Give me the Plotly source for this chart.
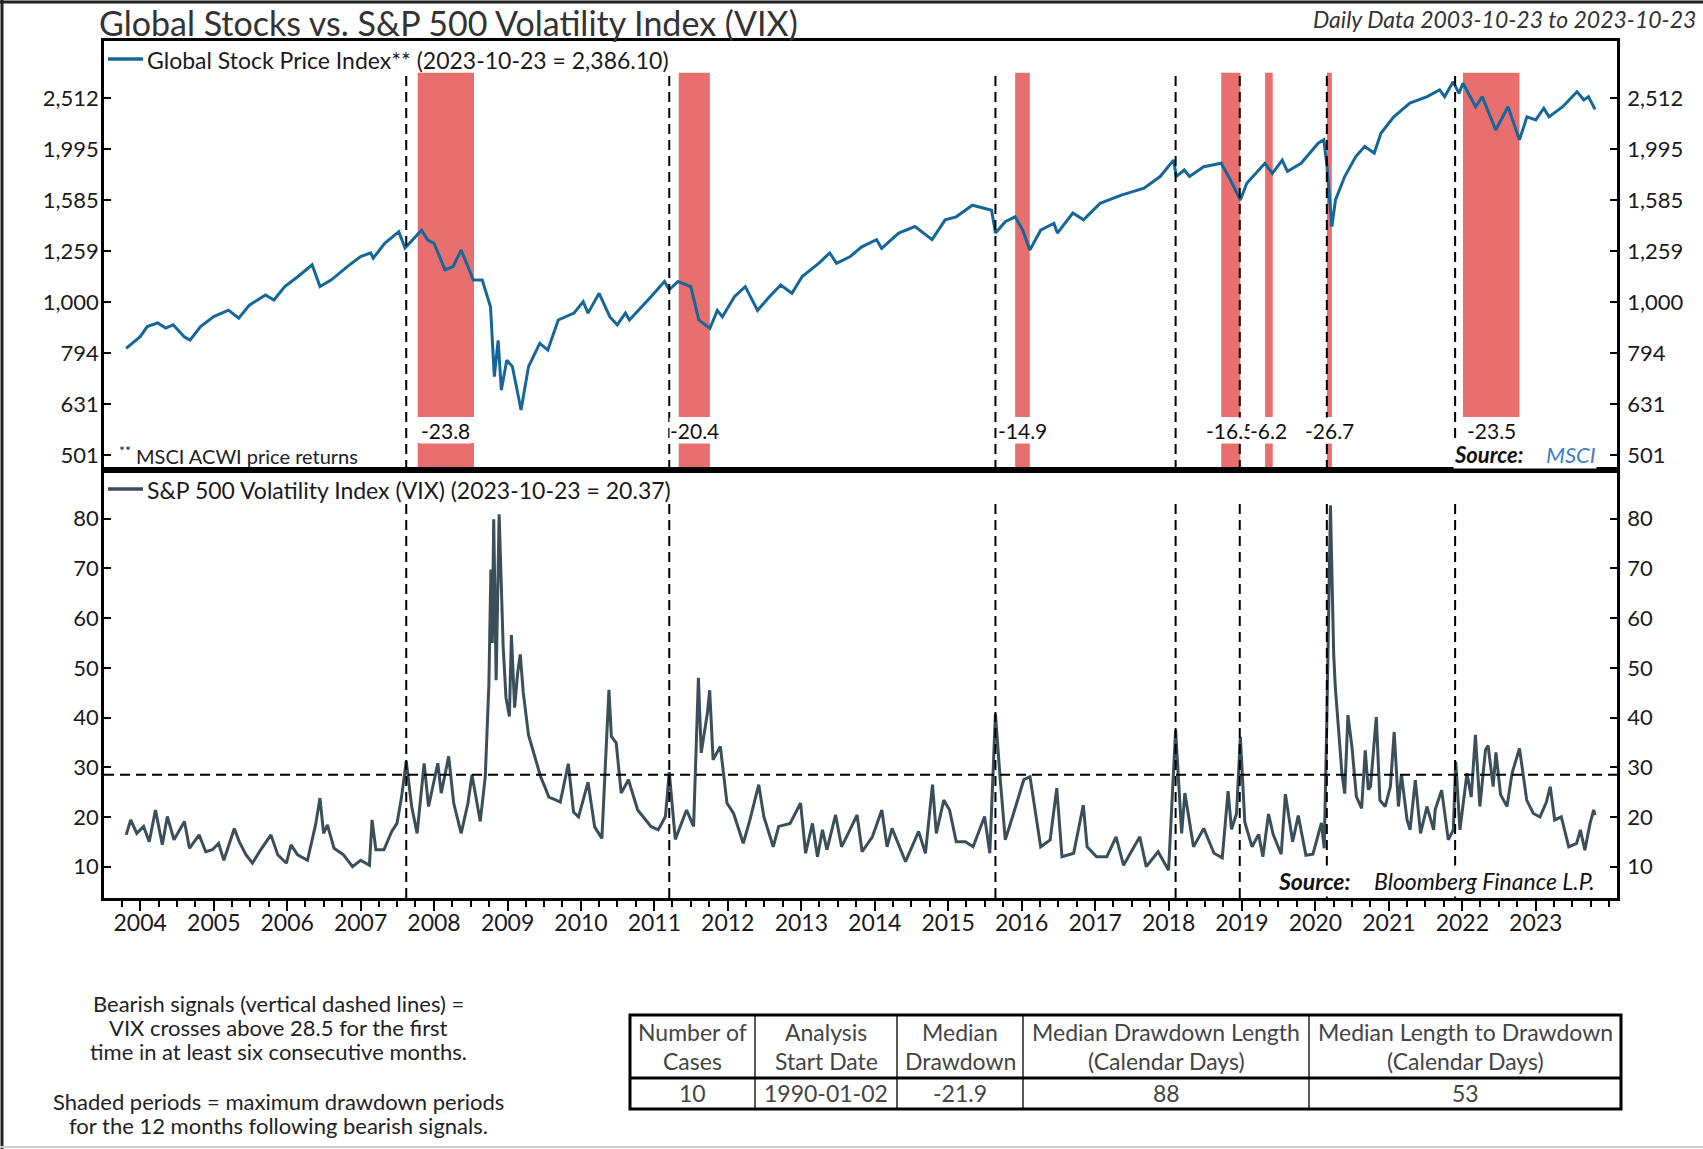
import pandas as pd
import plotly.graph_objects as go

# ---- data ----
stock_dates = [
    "2003-10-23", "2004-01-01", "2004-02-05", "2004-03-28", "2004-05-07", "2004-06-13", "2004-08-07",
    "2004-09-05", "2004-10-27", "2005-01-01", "2005-03-15", "2005-05-05", "2005-06-27", "2005-09-15",
    "2005-10-27", "2005-12-20", "2006-02-24", "2006-05-05", "2006-06-13", "2006-08-07", "2006-10-27",
    "2007-01-01", "2007-02-20", "2007-03-05", "2007-05-01", "2007-07-10", "2007-08-10", "2007-10-31",
    "2007-12-01", "2008-01-01", "2008-02-25", "2008-04-05", "2008-05-15", "2008-07-15", "2008-08-28",
    "2008-10-08", "2008-10-27", "2008-11-15", "2008-12-01", "2008-12-28", "2009-01-25", "2009-03-09",
    "2009-04-15", "2009-06-10", "2009-07-20", "2009-09-10", "2009-11-27", "2010-01-12", "2010-02-05",
    "2010-04-01", "2010-05-25", "2010-06-30", "2010-08-10", "2010-08-30", "2010-12-15", "2011-02-20",
    "2011-03-16", "2011-04-28", "2011-07-01", "2011-08-10", "2011-10-04", "2011-11-10", "2011-12-05",
    "2012-02-03", "2012-03-28", "2012-05-28", "2012-07-26", "2012-09-20", "2012-11-15", "2013-01-05",
    "2013-03-28", "2013-05-22", "2013-06-25", "2013-09-01", "2013-10-28", "2014-01-10", "2014-02-04",
    "2014-04-30", "2014-07-20", "2014-10-13", "2014-12-17", "2015-02-10", "2015-05-01", "2015-08-05",
    "2015-08-24", "2015-10-12", "2015-11-30", "2016-01-07", "2016-02-11", "2016-04-05", "2016-06-10",
    "2016-06-27", "2016-09-12", "2016-11-04", "2017-01-25", "2017-05-15", "2017-09-01", "2017-11-20",
    "2018-01-26", "2018-02-08", "2018-03-20", "2018-04-15", "2018-06-25", "2018-09-20", "2018-11-05",
    "2018-12-24", "2019-01-25", "2019-04-25", "2019-06-01", "2019-07-20", "2019-08-15", "2019-10-22",
    "2020-01-15", "2020-02-12", "2020-02-28", "2020-03-23", "2020-04-10", "2020-05-26", "2020-07-20",
    "2020-09-02", "2020-10-20", "2020-11-22", "2021-01-25", "2021-04-15", "2021-07-10", "2021-09-10",
    "2021-10-05", "2021-11-16", "2021-12-15", "2022-01-04", "2022-03-08", "2022-04-10", "2022-06-16",
    "2022-08-16", "2022-10-12", "2022-11-18", "2023-01-01", "2023-02-10", "2023-03-08", "2023-05-15",
    "2023-07-25", "2023-08-28", "2023-09-20", "2023-10-23",
]
stock_values = [
    811, 855, 895, 910, 889, 902, 855,
    842, 895, 936, 964, 930, 986, 1032,
    1009, 1072, 1122, 1183, 1072, 1104, 1173,
    1228, 1248, 1219, 1304, 1374, 1276, 1383,
    1323, 1304, 1157, 1173, 1265, 1104, 1104,
    979, 714, 841, 672, 769, 747, 614,
    747, 830, 805, 922, 951, 1002, 951,
    1040, 935, 902, 951, 922, 1024, 1097,
    1057, 1097, 1072, 922, 888, 963, 935,
    1024, 1072, 963, 1024, 1080, 1040, 1122,
    1191, 1248, 1191, 1228, 1283, 1325, 1274,
    1365, 1406, 1325, 1449, 1469, 1548, 1513,
    1365, 1437, 1469, 1383, 1265, 1383, 1427,
    1365, 1494, 1449, 1561, 1622, 1672, 1762,
    1898, 1762, 1815, 1762, 1842, 1871, 1734,
    1585, 1710, 1871, 1787, 1898, 1803, 1871,
    2048, 2080, 1842, 1406, 1585, 1762, 1928,
    2019, 1959, 2142, 2307, 2455, 2527, 2605,
    2527, 2704, 2565, 2685, 2415, 2527, 2174,
    2415, 2080, 2307, 2275, 2399, 2307, 2415,
    2585, 2489, 2527, 2386.10,
]

vix_dates = [
    "2003-10-23", "2003-11-15", "2003-12-15", "2004-01-18", "2004-02-15", "2004-03-17", "2004-04-20",
    "2004-05-15", "2004-06-17", "2004-08-08", "2004-09-02", "2004-10-20", "2004-11-22", "2004-12-25",
    "2005-01-25", "2005-02-20", "2005-04-13", "2005-05-08", "2005-06-10", "2005-07-12", "2005-08-22",
    "2005-10-12", "2005-11-15", "2005-12-28", "2006-01-20", "2006-02-22", "2006-04-12", "2006-05-22",
    "2006-06-13", "2006-07-01", "2006-07-20", "2006-08-22", "2006-10-08", "2006-11-22", "2007-01-01",
    "2007-02-14", "2007-02-27", "2007-03-18", "2007-04-27", "2007-06-05", "2007-07-01", "2007-07-24",
    "2007-08-16", "2007-08-28", "2007-09-12", "2007-10-09", "2007-11-13", "2007-12-05", "2008-01-20",
    "2008-02-06", "2008-03-14", "2008-04-08", "2008-05-15", "2008-06-18", "2008-07-08", "2008-08-18",
    "2008-09-12", "2008-09-30", "2008-10-10", "2008-10-17", "2008-10-24", "2008-11-05", "2008-11-20",
    "2008-12-10", "2008-12-24", "2009-01-10", "2009-01-20", "2009-02-05", "2009-02-20", "2009-03-05",
    "2009-03-20", "2009-04-15", "2009-05-15", "2009-06-15", "2009-07-05", "2009-07-25", "2009-08-25",
    "2009-09-20", "2009-10-30", "2009-11-25", "2009-12-20", "2010-02-05", "2010-03-10", "2010-04-15",
    "2010-05-20", "2010-06-01", "2010-06-25", "2010-07-20", "2010-08-25", "2010-10-10", "2010-12-15",
    "2011-01-20", "2011-02-25", "2011-03-16", "2011-04-15", "2011-06-10", "2011-07-15", "2011-08-08",
    "2011-08-22", "2011-09-10", "2011-09-22", "2011-10-03", "2011-10-20", "2011-11-25", "2011-12-28",
    "2012-01-30", "2012-03-18", "2012-04-20", "2012-06-03", "2012-06-28", "2012-08-14", "2012-09-10",
    "2012-11-06", "2012-12-28", "2013-01-22", "2013-02-25", "2013-03-22", "2013-04-16", "2013-05-08",
    "2013-06-20", "2013-07-20", "2013-08-22", "2013-10-05", "2013-10-30", "2013-12-20", "2014-02-05",
    "2014-03-03", "2014-03-28", "2014-06-03", "2014-08-07", "2014-09-10", "2014-10-15", "2014-11-03",
    "2014-12-10", "2015-01-08", "2015-02-10", "2015-03-28", "2015-05-05", "2015-07-01", "2015-07-27",
    "2015-08-24", "2015-09-17", "2015-10-12", "2015-11-22", "2016-01-12", "2016-02-12", "2016-04-05",
    "2016-05-22", "2016-06-24", "2016-07-20", "2016-09-16", "2016-11-03", "2016-11-22", "2017-01-08",
    "2017-02-28", "2017-04-15", "2017-05-22", "2017-08-11", "2017-09-12", "2017-11-10", "2018-01-01",
    "2018-02-05", "2018-03-07", "2018-03-23", "2018-05-05", "2018-06-25", "2018-08-15", "2018-09-25",
    "2018-10-24", "2018-11-10", "2018-12-05", "2018-12-24", "2019-01-15", "2019-02-20", "2019-03-25",
    "2019-04-15", "2019-05-13", "2019-06-05", "2019-07-15", "2019-08-05", "2019-09-10", "2019-10-08",
    "2019-11-15", "2019-12-20", "2020-01-31", "2020-02-14", "2020-02-27", "2020-03-16", "2020-03-25",
    "2020-04-01", "2020-04-09", "2020-04-23", "2020-05-12", "2020-05-26", "2020-06-11", "2020-07-01",
    "2020-07-23", "2020-08-18", "2020-09-05", "2020-09-20", "2020-10-01", "2020-10-30", "2020-11-17",
    "2020-12-13", "2021-01-08", "2021-01-27", "2021-02-17", "2021-03-04", "2021-04-01", "2021-04-16",
    "2021-05-12", "2021-06-07", "2021-07-09", "2021-08-11", "2021-08-19", "2021-09-20", "2021-10-23",
    "2021-11-17", "2021-11-29", "2021-12-20", "2022-01-24", "2022-02-14", "2022-03-07", "2022-03-29",
    "2022-04-26", "2022-05-09", "2022-06-03", "2022-06-17", "2022-07-10", "2022-08-11", "2022-09-05",
    "2022-10-12", "2022-11-17", "2022-12-20", "2023-01-22", "2023-02-22", "2023-03-14", "2023-04-05",
    "2023-05-08", "2023-06-14", "2023-07-23", "2023-08-11", "2023-09-02", "2023-09-28", "2023-10-16",
    "2023-10-23",
]
vix_values = [
    16.4, 19.4, 16.7, 18.1, 15.0, 21.4, 14.4,
    20.1, 15.4, 19.1, 13.7, 16.4, 13.0, 13.4,
    14.7, 11.3, 17.7, 15.0, 12.4, 10.7, 13.4,
    16.4, 12.4, 10.7, 14.4, 12.4, 11.3, 18.4,
    23.8, 16.7, 18.4, 13.7, 12.4, 10.0, 11.3,
    10.3, 19.4, 13.4, 13.4, 17.1, 18.7, 24.1,
    31.2, 26.8, 22.1, 16.7, 30.8, 22.1, 30.8,
    24.8, 32.2, 22.8, 16.7, 22.8, 28.5, 19.1,
    28.1, 46.7, 69.8, 55.0, 79.9, 47.5, 80.9,
    54.3, 44.0, 40.2, 56.6, 42.0, 49.0, 52.7,
    45.0, 36.5, 32.2, 28.0, 26.1, 24.0, 23.5,
    23.0, 30.7, 21.0, 20.0, 27.0, 18.0, 15.7,
    45.6, 36.2, 34.9, 24.8, 27.5, 21.4, 18.1,
    17.4, 20.1, 29.0, 15.5, 21.4, 18.1, 48.0,
    32.9, 38.0, 41.0, 45.5, 31.5, 34.2, 22.8,
    20.7, 14.7, 19.4, 26.5, 20.1, 14.0, 18.1,
    18.7, 22.8, 12.7, 18.7, 12.0, 17.4, 13.4,
    20.4, 14.0, 16.7, 20.4, 13.0, 16.0, 21.4,
    14.0, 17.7, 11.0, 17.1, 12.7, 26.5, 16.7,
    23.4, 21.4, 15.0, 15.0, 14.0, 20.1, 12.7,
    40.7, 27.5, 15.4, 20.7, 27.5, 28.1, 14.0,
    15.4, 25.8, 12.0, 12.7, 22.4, 14.0, 12.0,
    12.0, 16.0, 10.3, 16.0, 10.0, 13.0, 9.3,
    37.5, 16.7, 24.8, 14.0, 17.7, 12.7, 11.8,
    25.2, 17.5, 20.7, 36.1, 19.0, 14.0, 16.5,
    12.0, 20.6, 16.5, 12.5, 24.6, 15.0, 20.3,
    12.3, 12.5, 18.8, 13.7, 39.2, 82.7, 63.9,
    52.9, 46.2, 38.1, 28.8, 24.7, 40.5, 34.1,
    24.1, 21.7, 33.4, 25.5, 26.1, 40.1, 23.4,
    22.1, 26.1, 37.1, 22.1, 28.6, 19.4, 17.4,
    27.4, 16.7, 22.1, 17.4, 21.5, 25.4, 15.4,
    17.4, 31.1, 17.4, 28.8, 24.0, 36.5, 22.1,
    33.5, 34.4, 26.1, 33.0, 24.5, 22.1, 28.8,
    33.8, 23.4, 20.7, 20.0, 22.9, 26.1, 19.4,
    20.0, 14.0, 14.7, 17.4, 13.3, 18.7, 21.4,
    20.37,
]

signal_dates = ["2007-08-16", "2011-03-16", "2015-08-24", "2018-02-05", "2018-12-21", "2020-02-27", "2021-11-26"]
dd_start = ["2007-10-12", "2011-05-02", "2015-11-30", "2018-09-20", "2019-04-26", "2020-02-27", "2022-01-04"]
dd_end = ["2008-07-18", "2011-10-04", "2016-02-11", "2018-12-24", "2019-06-03", "2020-03-23", "2022-10-12"]
dd_labels = ["-23.8", "-20.4", "-14.9", "-16.5", "-6.2", "-26.7", "-23.5"]

vix_threshold = 28.5
year_ticks = list(range(2004, 2024))
stock_ticks = [501.19, 630.96, 794.33, 1000, 1258.93, 1584.89, 1995.26, 2511.89]
stock_ticktext = ["501", "631", "794", "1,000", "1,259", "1,585", "1,995", "2,512"]
vix_ticks = [10, 20, 30, 40, 50, 60, 70, 80]

table_head_1 = ["Number of", "Analysis", "Median", "Median Drawdown Length", "Median Length to Drawdown"]
table_head_2 = ["Cases", "Start Date", "Drawdown", "(Calendar Days)", "(Calendar Days)"]
table_row = ["10", "1990-01-02", "-21.9", "88", "53"]

note_lines = [
    "Bearish signals (vertical dashed lines) =",
    "VIX crosses above 28.5 for the first",
    "time in at least six consecutive months.",
    "Shaded periods = maximum drawdown periods",
    "for the 12 months following bearish signals.",
]

# ---- layout geometry (pixels) ----
W, H = 1703, 1149
L, R, T, B = 104, 1617, 41, 898
MID = 470
FONT = "Lato, sans-serif"
STOCK_COLOR = "#15679A"
VIX_COLOR = "#3B4F5B"
SHADE = "#E96F6F"
DASH = "10px,6px"


def px(x):
    return (x - L) / (R - L)


def py(y):
    return (B - y) / (B - T)


split = py(MID)
top_h = MID - T
bot_h = B - MID

fig = go.Figure()

fig.add_trace(go.Scatter(
    x=stock_dates, y=stock_values, xaxis="x2", yaxis="y2", mode="lines",
    line=dict(color=STOCK_COLOR, width=3), name="Global Stock Price Index",
))
fig.add_trace(go.Scatter(
    x=vix_dates, y=vix_values, xaxis="x", yaxis="y", mode="lines",
    line=dict(color=VIX_COLOR, width=3), name="S&P 500 Volatility Index (VIX)",
))
# invisible traces so the right-hand mirror axes get drawn
fig.add_trace(go.Scatter(x=[vix_dates[0]], y=[vix_values[0]], xaxis="x", yaxis="y3",
                         mode="markers", marker=dict(opacity=0), hoverinfo="skip"))
fig.add_trace(go.Scatter(x=[stock_dates[0]], y=[stock_values[0]], xaxis="x2", yaxis="y4",
                         mode="markers", marker=dict(opacity=0), hoverinfo="skip"))

shapes = []
annotations = []
label_annotations = []

# shaded drawdown periods (broken where the label sits)
gap_top = (MID - 417) / top_h
gap_bot = (MID - 443) / top_h
shade_top = (MID - 72.7) / top_h
for s, e, lab in zip(dd_start, dd_end, dd_labels):
    for y0, y1 in [(gap_top, shade_top), (0, gap_bot)]:
        shapes.append(dict(type="rect", xref="x2", yref="y2 domain", x0=s, x1=e, y0=y0, y1=y1,
                           fillcolor=SHADE, line=dict(width=0), layer="below"))
    mid = pd.Timestamp(s) + (pd.Timestamp(e) - pd.Timestamp(s)) / 2
    label_annotations.append(dict(xref="x2", yref="y2 domain", x=mid.strftime("%Y-%m-%d"),
                                  y=(MID - 430) / top_h, text=lab, showarrow=False,
                                  xanchor="center", yanchor="middle", bgcolor="white", borderpad=0,
                                  font=dict(family=FONT, size=21, color="#111")))

# bearish signal lines
for d in signal_dates:
    shapes.append(dict(type="line", xref="x2", yref="y2 domain", x0=d, x1=d, y0=0, y1=shade_top,
                       line=dict(color="black", width=2, dash=DASH)))
    shapes.append(dict(type="line", xref="x", yref="y domain", x0=d, x1=d, y0=0,
                       y1=(B - 502) / bot_h, line=dict(color="black", width=2, dash=DASH)))

# VIX threshold
shapes.append(dict(type="line", xref="x domain", yref="y", x0=0, x1=1, y0=vix_threshold, y1=vix_threshold,
                   line=dict(color="black", width=2, dash=DASH)))

# legend samples
for yy, col in [(59, STOCK_COLOR), (489, VIX_COLOR)]:
    shapes.append(dict(type="line", xref="paper", yref="paper", x0=px(108), x1=px(143),
                       y0=py(yy), y1=py(yy), line=dict(color=col, width=3.5)))
annotations.append(dict(xref="paper", yref="paper", x=px(145), y=py(60), xanchor="left", yanchor="middle",
                        text="Global Stock Price Index** (2023-10-23 = 2,386.10)", showarrow=False,
                        font=dict(family=FONT, size=23, color="#1a1a1a")))
annotations.append(dict(xref="paper", yref="paper", x=px(145), y=py(490), xanchor="left", yanchor="middle",
                        text="S&P 500 Volatility Index (VIX) (2023-10-23 = 20.37)", showarrow=False,
                        font=dict(family=FONT, size=23, color="#1a1a1a")))

# titles and notes
annotations.append(dict(xref="paper", yref="paper", x=px(97), y=py(23), xanchor="left", yanchor="middle",
                        text="Global Stocks vs. S&P 500 Volatility Index (VIX)", showarrow=False,
                        font=dict(family=FONT, size=34, color="#333")))
annotations.append(dict(xref="paper", yref="paper", x=px(1698), y=py(19), xanchor="right", yanchor="middle",
                        text="<i>Daily Data 2003-10-23 to 2023-10-23</i>", showarrow=False,
                        font=dict(family=FONT, size=23, color="#333")))
annotations.append(dict(xref="paper", yref="paper", x=px(117), y=py(455), xanchor="left", yanchor="middle",
                        text="<sup>**</sup> MSCI ACWI price returns", showarrow=False,
                        font=dict(family=FONT, size=20, color="#222")))
annotations.append(dict(xref="paper", yref="paper", x=px(1597), y=py(468.5), xanchor="right", yanchor="bottom",
                        text="<b><i>Source:</i></b>&nbsp;&nbsp;&nbsp; <i><span style='color:#3F7FBF'>MSCI</span></i>",
                        showarrow=False, bgcolor="white", borderpad=0,
                        font=dict(family=FONT, size=22, color="#111")))
annotations.append(dict(xref="paper", yref="paper", x=px(1597), y=py(897), xanchor="right", yanchor="bottom",
                        text="<b><i>Source:</i></b>&nbsp;&nbsp;&nbsp; <i>Bloomberg Finance L.P.</i>",
                        showarrow=False, bgcolor="white", borderpad=1,
                        font=dict(family=FONT, size=23, color="#111")))
annotations.extend(label_annotations)

for txt, yy in zip(note_lines, [1003, 1027, 1051, 1101, 1125]):
    annotations.append(dict(xref="paper", yref="paper", x=px(278), y=py(yy), xanchor="center",
                            yanchor="middle", text=txt, showarrow=False,
                            font=dict(family=FONT, size=22, color="#222")))

# table
col_edges = [630, 755, 897, 1023, 1309, 1621]
t_top, t_mid, t_bot = 1015, 1078, 1109
for x in col_edges[1:-1]:
    shapes.append(dict(type="line", xref="paper", yref="paper", x0=px(x), x1=px(x), y0=py(t_top), y1=py(t_bot),
                       line=dict(color="#222", width=1.5)))
shapes.append(dict(type="rect", xref="paper", yref="paper", x0=px(col_edges[0]), x1=px(col_edges[-1]),
                   y0=py(t_bot), y1=py(t_top), line=dict(color="black", width=3)))
shapes.append(dict(type="line", xref="paper", yref="paper", x0=px(col_edges[0]), x1=px(col_edges[-1]),
                   y0=py(t_mid), y1=py(t_mid), line=dict(color="black", width=3)))
for i in range(len(table_row)):
    cx = px((col_edges[i] + col_edges[i + 1]) / 2)
    for txt, yy in [(table_head_1[i], 1032), (table_head_2[i], 1061), (table_row[i], 1093)]:
        annotations.append(dict(xref="paper", yref="paper", x=cx, y=py(yy), xanchor="center", yanchor="middle",
                                text=txt, showarrow=False, font=dict(family=FONT, size=23, color="#444")))

# outer frame
shapes.append(dict(type="line", xref="paper", yref="paper", x0=px(0), x1=px(W), y0=py(2), y1=py(2),
                   line=dict(color="#222", width=3)))
shapes.append(dict(type="line", xref="paper", yref="paper", x0=px(2), x1=px(2), y0=py(0), y1=py(H),
                   line=dict(color="#222", width=3)))
shapes.append(dict(type="line", xref="paper", yref="paper", x0=px(0), x1=px(W), y0=py(1147), y1=py(1147),
                   line=dict(color="#ccc", width=2)))

axis_line = dict(showline=True, linecolor="black", linewidth=2.5, showgrid=False, zeroline=False)
ytick_font = dict(family=FONT, size=22, color="#1a1a1a")
x_range = ["2003-07-05", "2024-02-09"]
log_range = [2.6706, 3.5118]
vix_range = [3.7, 89.8]

fig.update_layout(
    width=W, height=H, autosize=False,
    margin=dict(l=L, r=W - R, t=T, b=H - B, pad=0),
    paper_bgcolor="white", plot_bgcolor="white",
    showlegend=False,
    xaxis=dict(domain=[0, 1], anchor="y", range=x_range, type="date", mirror=True,
               tickmode="array", tickvals=[f"{y}-01-01" for y in year_ticks],
               ticktext=[str(y) for y in year_ticks],
               ticks="outside", ticklen=10, tickwidth=2, ticklabelstandoff=-7,
               tickcolor="black", tickfont=dict(family=FONT, size=23, color="#1a1a1a"),
               minor=dict(ticks="outside", dtick="M3", tick0="2004-01-01", ticklen=6, tickwidth=2,
                          tickcolor="black"),
               **axis_line),
    xaxis2=dict(domain=[0, 1], anchor="y2", matches="x", range=x_range, type="date", mirror=True,
                showticklabels=False, ticks="", **axis_line),
    yaxis=dict(domain=[0, split], anchor="x", range=vix_range, tickvals=vix_ticks, ticks="inside",
               ticklen=7, tickwidth=2, tickcolor="black", tickfont=ytick_font, mirror=True,
               ticklabelstandoff=-2, **axis_line),
    yaxis3=dict(overlaying="y", side="right", anchor="x", range=vix_range, tickvals=vix_ticks,
                ticks="inside", ticklen=7, tickwidth=2, tickcolor="black", tickfont=ytick_font,
                ticklabelstandoff=3, **axis_line),
    yaxis2=dict(domain=[split, 1], anchor="x2", type="log", range=log_range, tickvals=stock_ticks,
                ticktext=stock_ticktext, ticks="inside", ticklen=7, tickwidth=2, tickcolor="black",
                tickfont=ytick_font, mirror=True, ticklabelstandoff=-2, **axis_line),
    yaxis4=dict(overlaying="y2", side="right", anchor="x2", type="log", range=log_range,
                tickvals=stock_ticks, ticktext=stock_ticktext, ticks="inside", ticklen=7, tickwidth=2,
                tickcolor="black", tickfont=ytick_font, ticklabelstandoff=3, **axis_line),
    shapes=shapes,
    annotations=annotations,
)

fig.write_html("out.html", config={"displayModeBar": False},
               post_script="document.body.style.margin='0';")
